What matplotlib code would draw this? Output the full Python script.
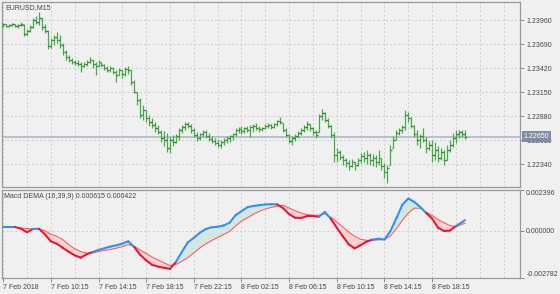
import numpy as np
import matplotlib
matplotlib.use("Agg")
import matplotlib.pyplot as plt
from matplotlib.collections import LineCollection

plt.rcParams['font.family'] = ['Liberation Sans', 'DejaVu Sans']

# ---------------- data ----------------
symbol_title = "EURUSD,M15"
macd_title = "Macd DEMA (16,39,9) 0.000615 0.000422"

high = [1.23926,1.23915,1.23915,1.23926,1.23915,1.23915,1.23937,1.23915,1.23859,1.23904,
        1.23982,1.24005,1.24050,1.23982,1.23915,1.23847,1.23757,1.23791,1.23825,1.23791,
        1.23701,1.23622,1.23566,1.23532,1.23510,1.23510,1.23487,1.23487,1.23510,1.23544,
        1.23510,1.23487,1.23510,1.23487,1.23465,1.23442,1.23442,1.23431,1.23397,1.23420,
        1.23397,1.23431,1.23442,1.23397,1.23285,1.23150,1.23082,1.23004,1.22947,1.22891,
        1.22857,1.22812,1.22779,1.22722,1.22711,1.22689,1.22644,1.22666,1.22677,1.22745,
        1.22779,1.22812,1.22812,1.22790,1.22745,1.22700,1.22689,1.22722,1.22722,1.22689,
        1.22655,1.22632,1.22621,1.22610,1.22632,1.22655,1.22666,1.22689,1.22745,1.22756,
        1.22767,1.22756,1.22767,1.22779,1.22790,1.22801,1.22767,1.22756,1.22790,1.22801,
        1.22790,1.22801,1.22835,1.22869,1.22801,1.22745,1.22677,1.22655,1.22677,1.22711,
        1.22745,1.22779,1.22824,1.22790,1.22756,1.22722,1.22902,1.22959,1.22925,1.22857,
        1.22779,1.22700,1.22520,1.22497,1.22441,1.22407,1.22385,1.22396,1.22362,1.22407,
        1.22464,1.22475,1.22497,1.22464,1.22452,1.22441,1.22497,1.22407,1.22351,1.22329,
        1.22554,1.22655,1.22722,1.22745,1.22779,1.22947,1.22925,1.22869,1.22779,1.22722,
        1.22677,1.22745,1.22644,1.22599,1.22610,1.22587,1.22542,1.22520,1.22497,1.22554,
        1.22610,1.22689,1.22722,1.22722,1.22722,1.22722]

low = [1.23881,1.23881,1.23881,1.23892,1.23881,1.23870,1.23892,1.23780,1.23791,1.23825,
       1.23870,1.23915,1.23904,1.23847,1.23814,1.23634,1.23645,1.23679,1.23701,1.23645,
       1.23566,1.23510,1.23487,1.23465,1.23454,1.23442,1.23375,1.23431,1.23442,1.23476,
       1.23420,1.23341,1.23442,1.23431,1.23397,1.23375,1.23375,1.23352,1.23262,1.23341,
       1.23307,1.23330,1.23352,1.23229,1.23139,1.23004,1.22857,1.22835,1.22812,1.22767,
       1.22745,1.22700,1.22677,1.22587,1.22542,1.22475,1.22464,1.22542,1.22576,1.22610,
       1.22689,1.22722,1.22745,1.22689,1.22644,1.22599,1.22610,1.22644,1.22632,1.22599,
       1.22576,1.22554,1.22531,1.22520,1.22554,1.22576,1.22587,1.22610,1.22655,1.22689,
       1.22677,1.22689,1.22700,1.22644,1.22700,1.22722,1.22700,1.22711,1.22734,1.22745,
       1.22734,1.22745,1.22767,1.22790,1.22700,1.22644,1.22576,1.22554,1.22599,1.22632,
       1.22666,1.22700,1.22722,1.22711,1.22666,1.22632,1.22700,1.22835,1.22812,1.22745,
       1.22632,1.22362,1.22362,1.22385,1.22329,1.22306,1.22272,1.22306,1.22272,1.22317,
       1.22351,1.22362,1.22340,1.22329,1.22317,1.22306,1.22329,1.22272,1.22182,1.22126,
       1.22329,1.22520,1.22610,1.22666,1.22689,1.22722,1.22812,1.22745,1.22644,1.22554,
       1.22520,1.22587,1.22464,1.22497,1.22362,1.22385,1.22362,1.22385,1.22329,1.22385,
       1.22475,1.22531,1.22576,1.22632,1.22644,1.22621]

open_ = [1.23904,1.23915,1.23892,1.23904,1.23915,1.23892,1.23904,1.23904,1.23802,1.23836,
         1.23881,1.23960,1.23937,1.23982,1.23881,1.23836,1.23667,1.23735,1.23769,1.23735,
         1.23679,1.23600,1.23544,1.23510,1.23487,1.23476,1.23465,1.23442,1.23465,1.23487,
         1.23510,1.23465,1.23442,1.23487,1.23454,1.23420,1.23397,1.23420,1.23375,1.23341,
         1.23397,1.23352,1.23409,1.23397,1.23262,1.23150,1.23060,1.22891,1.22947,1.22857,
         1.22812,1.22779,1.22745,1.22700,1.22632,1.22610,1.22520,1.22610,1.22587,1.22655,
         1.22722,1.22756,1.22790,1.22767,1.22722,1.22666,1.22632,1.22677,1.22700,1.22655,
         1.22621,1.22599,1.22576,1.22554,1.22587,1.22610,1.22632,1.22655,1.22677,1.22722,
         1.22734,1.22711,1.22745,1.22722,1.22756,1.22767,1.22745,1.22734,1.22745,1.22767,
         1.22779,1.22756,1.22790,1.22824,1.22801,1.22722,1.22666,1.22599,1.22632,1.22655,
         1.22689,1.22722,1.22756,1.22790,1.22745,1.22700,1.22700,1.22880,1.22914,1.22835,
         1.22767,1.22666,1.22441,1.22475,1.22419,1.22385,1.22351,1.22317,1.22362,1.22329,
         1.22385,1.22430,1.22407,1.22441,1.22385,1.22407,1.22362,1.22407,1.22317,1.22250,
         1.22329,1.22520,1.22610,1.22689,1.22722,1.22756,1.22891,1.22857,1.22767,1.22677,
         1.22610,1.22655,1.22610,1.22520,1.22554,1.22441,1.22497,1.22407,1.22475,1.22385,
         1.22497,1.22554,1.22632,1.22677,1.22700,1.22677]

close = [1.23915,1.23892,1.23904,1.23915,1.23892,1.23904,1.23915,1.23802,1.23836,1.23881,
         1.23960,1.23937,1.23982,1.23881,1.23836,1.23667,1.23735,1.23769,1.23735,1.23679,
         1.23600,1.23544,1.23510,1.23487,1.23476,1.23465,1.23442,1.23465,1.23487,1.23510,
         1.23465,1.23442,1.23487,1.23454,1.23420,1.23397,1.23420,1.23375,1.23341,1.23397,
         1.23352,1.23409,1.23397,1.23262,1.23150,1.23060,1.22891,1.22947,1.22857,1.22812,
         1.22779,1.22745,1.22700,1.22632,1.22610,1.22520,1.22610,1.22587,1.22655,1.22722,
         1.22756,1.22790,1.22767,1.22722,1.22666,1.22632,1.22677,1.22700,1.22655,1.22621,
         1.22599,1.22576,1.22554,1.22587,1.22610,1.22632,1.22655,1.22677,1.22722,1.22734,
         1.22711,1.22745,1.22722,1.22756,1.22767,1.22745,1.22734,1.22745,1.22767,1.22779,
         1.22756,1.22790,1.22824,1.22812,1.22722,1.22666,1.22599,1.22632,1.22655,1.22689,
         1.22722,1.22756,1.22790,1.22745,1.22700,1.22666,1.22880,1.22914,1.22835,1.22767,
         1.22666,1.22441,1.22475,1.22419,1.22385,1.22351,1.22317,1.22362,1.22329,1.22385,
         1.22430,1.22407,1.22441,1.22385,1.22407,1.22362,1.22407,1.22317,1.22250,1.22295,
         1.22497,1.22610,1.22689,1.22722,1.22756,1.22891,1.22857,1.22767,1.22677,1.22610,
         1.22655,1.22610,1.22520,1.22554,1.22441,1.22497,1.22407,1.22475,1.22385,1.22497,
         1.22554,1.22632,1.22677,1.22700,1.22677,1.22650]

current_price = 1.22650
price_ticks = [1.22340, 1.22610, 1.22880, 1.23150, 1.23420, 1.23690, 1.23960]

# MACD (read every second bar, plus the last bar)
macd_bars = list(range(0, 156, 2)) + [155]
macd_main = [0.000213,0.000213,0.000213,0.000107,-0.000101,0.000095,0.000110,-0.000219,-0.000633,-0.000781,
             -0.001018,-0.001255,-0.001462,-0.001598,-0.001403,-0.001267,-0.001143,-0.001042,-0.000941,-0.000870,
             -0.000770,-0.000633,-0.000971,-0.001433,-0.001758,-0.002025,-0.002125,-0.002202,-0.002261,-0.001847,
             -0.001255,-0.000693,-0.000426,-0.000130,0.000089,0.000195,0.000225,0.000302,0.000462,0.000906,
             0.001143,0.001379,0.001456,0.001498,0.001545,0.001557,0.001545,0.001320,0.000965,0.000758,
             0.000746,0.000847,0.000847,0.000817,0.001101,0.000693,0.000166,-0.000337,-0.000811,-0.001048,
             -0.000870,-0.000651,-0.000533,-0.000480,-0.000533,-0.000024,0.000728,0.001527,0.001894,0.001693,
             0.001397,0.001042,0.000710,0.000166,-0.000024,0.000000,0.000272,0.000491,0.000615]
macd_signal = [0.000213,0.000213,0.000195,0.000148,0.000118,0.000090,0.000085,-0.000006,-0.000213,-0.000337,
               -0.000533,-0.000823,-0.001072,-0.001237,-0.001326,-0.001326,-0.001237,-0.001172,-0.001113,-0.001042,
               -0.000947,-0.000829,-0.000935,-0.001143,-0.001350,-0.001563,-0.001740,-0.001906,-0.002066,-0.002001,
               -0.001812,-0.001598,-0.001314,-0.001024,-0.000793,-0.000586,-0.000408,-0.000231,-0.000053,0.000266,
               0.000562,0.000752,0.000965,0.001131,0.001273,0.001368,0.001439,0.001498,0.001332,0.001172,
               0.001024,0.000947,0.000906,0.000906,0.000989,0.000793,0.000509,0.000213,-0.000083,-0.000337,
               -0.000515,-0.000574,-0.000574,-0.000551,-0.000521,-0.000314,0.000101,0.000610,0.001030,0.001326,
               0.001320,0.001089,0.000888,0.000651,0.000462,0.000296,0.000219,0.000373,0.000422]
macd_ticks = [-0.002782, 0.0, 0.002396]

time_labels = ["7 Feb 2018", "7 Feb 10:15", "7 Feb 14:15", "7 Feb 18:15", "7 Feb 22:15",
               "8 Feb 02:15", "8 Feb 06:15", "8 Feb 10:15", "8 Feb 14:15", "8 Feb 18:15"]

# ---------------- style ----------------
BG = '#f0f0f0'
GRID = '#c9c9c9'
TXT = '#454545'
SPINE = '#9a9a9a'
BAR = '#4aaa4a'
W, H = 560, 294

fig = plt.figure(figsize=(W / 100, H / 100), dpi=100, facecolor=BG)
ax1 = fig.add_axes([2 / W, 1 - 187.3 / H, 518 / W, 185.3 / H], facecolor=BG)
ax2 = fig.add_axes([2 / W, 1 - 277.7 / H, 518 / W, 87.7 / H], facecolor=BG, sharex=ax1)

x = np.arange(len(close))
xlim = (-0.4, 173.5)

# grid
for ax in (ax1, ax2):
    for gx in range(0, 176, 8):
        ax.axvline(gx, color=GRID, lw=0.6, ls=(0, (2.5, 2.5)), zorder=0)
for p in price_ticks:
    ax1.axhline(p, color=GRID, lw=0.6, ls=(0, (2.5, 2.5)), zorder=0)
ax2.axhline(0.0, color=GRID, lw=0.6, ls=(0, (2.5, 2.5)), zorder=0)

# current price line
ax1.axhline(current_price, color='#b3bccb', lw=1.3, zorder=1)

# OHLC bars
ax1.vlines(x, low, high, color=BAR, lw=0.9, zorder=3)
ax1.hlines(open_, x - 0.55, x, color='#2f8a2f', lw=0.9, zorder=3)
ax1.hlines(close, x, x + 0.55, color='#2f8a2f', lw=0.9, zorder=3)
ax1.set_xlim(*xlim)
ax1.set_ylim(1.22081, 1.24163)

# MACD
mb = np.array(macd_bars, dtype=float)
mm = np.array(macd_main)
ms = np.array(macd_signal)
ax2.fill_between(mb, mm, ms, where=mm < ms, interpolate=True, color='#ffd3d3', lw=0, zorder=1)
ax2.fill_between(mb, mm, ms, where=mm >= ms, interpolate=True, color='#d5e5e0', lw=0, zorder=1)
ax2.plot(mb, ms, color='#ff4d4d', lw=0.7, zorder=2)
pts = np.column_stack([mb, mm])
segs = np.stack([pts[:-1], pts[1:]], axis=1)
diff = (mm - ms)
cols = ['#2f8ff0' if (diff[k] + diff[k + 1]) >= 0 else '#e8142e' for k in range(len(segs))]
lc = LineCollection(segs, colors=cols, linewidths=1.45, capstyle='round', zorder=3)
ax2.add_collection(lc)
ax2.set_ylim(macd_ticks[0], macd_ticks[-1])
ax2.set_xlim(*xlim)

# axes styling
for ax in (ax1, ax2):
    for s in ax.spines.values():
        s.set_color(SPINE)
        s.set_linewidth(0.9)
    ax.yaxis.tick_right()
    ax.tick_params(axis='y', which='both', direction='out', length=3, width=0.6,
                   color='#777777', labelsize=5, labelcolor=TXT, pad=1.5)

ax1.set_yticks(price_ticks)
ax1.set_yticklabels([f"{p:.5f}" for p in price_ticks])
ax1.tick_params(axis='x', length=0, labelbottom=False)

ax2.set_yticks(macd_ticks)
ax2.set_yticklabels([f"{v:.6f}" for v in macd_ticks])
mt = ax2.yaxis.get_major_ticks()
mt[0].label2.set_va('bottom')
mt[-1].label2.set_va('top')

ax2.set_xticks(list(range(0, 16 * len(time_labels), 16)))
ax2.set_xticklabels(time_labels, ha='left')
ax2.tick_params(axis='x', direction='out', length=3, width=0.6, color='#777777',
                labelsize=5, labelcolor=TXT, pad=1.5)

# titles
ax1.text(3 / 518, 1 - 2 / 185.3, symbol_title, transform=ax1.transAxes, ha='left', va='top',
         fontsize=5, color=TXT)
ax2.text(2 / 518, 1 - 3 / 87.7, macd_title, transform=ax2.transAxes, ha='left', va='top',
         fontsize=5, color=TXT)

# current price tag (drawn over the 1.22610 label, as in the reference)
ax1.annotate(f"{current_price:.5f}", xy=(1, current_price), xycoords=('axes fraction', 'data'),
             xytext=(2.5, 0), textcoords='offset points', ha='left', va='center', fontsize=5,
             color='white', annotation_clip=False, zorder=10,
             bbox=dict(boxstyle='square,pad=0.25', fc='#7f8da3', ec='none'))

fig.savefig("out.png", dpi=100, facecolor=BG)
